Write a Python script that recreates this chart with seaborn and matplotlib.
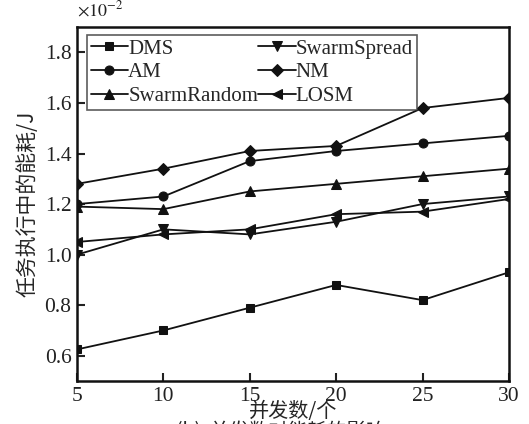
import matplotlib
matplotlib.use("Agg")
import matplotlib.pyplot as plt
import seaborn as sns
import pandas as pd

x_vals = [5, 10, 15, 20, 25, 30]
dms = [0.625, 0.70, 0.79, 0.88, 0.82, 0.93]
swarm_spread = [1.00, 1.10, 1.08, 1.13, 1.20, 1.23]
am = [1.20, 1.23, 1.37, 1.41, 1.44, 1.47]
nm = [1.28, 1.34, 1.41, 1.43, 1.58, 1.62]
swarm_random = [1.19, 1.18, 1.25, 1.28, 1.31, 1.34]
losm = [1.05, 1.08, 1.10, 1.16, 1.17, 1.22]

series_names = ["DMS", "AM", "SwarmRandom", "SwarmSpread", "NM", "LOSM"]
series_vals = [dms, am, swarm_random, swarm_spread, nm, losm]
markers = {"DMS": "s", "SwarmSpread": "v", "AM": "o", "NM": "D",
           "SwarmRandom": "^", "LOSM": "<"}
msizes = {"DMS": 6, "SwarmSpread": 7, "AM": 6.5, "NM": 6, "SwarmRandom": 7, "LOSM": 7}

sns.set_theme(style="ticks")
plt.rcParams['font.family'] = ['Liberation Serif', 'Noto Sans CJK SC']
plt.rcParams['mathtext.fontset'] = 'stix'

fig = plt.figure(figsize=(5.29, 4.24), dpi=100)
ax = fig.add_axes([0.1456, 0.1014, 0.8164, 0.8346])

rows = []
for name, vals in zip(series_names, series_vals):
    for xv, yv in zip(x_vals, vals):
        rows.append({"x": xv, "y": yv, "s": name})
df = pd.DataFrame(rows)

for name in series_names:
    sub = df[df["s"] == name]
    sns.lineplot(data=sub, x="x", y="y", ax=ax, color="#111111", lw=1.3,
                 marker=markers[name], markersize=msizes[name],
                 markeredgecolor="#111111", markerfacecolor="#111111",
                 label=name)

ax.set_xlim(5, 30)
ax.set_ylim(0.5, 1.9)
ax.set_xticks(x_vals)
ax.set_yticks([0.6, 0.8, 1.0, 1.2, 1.4, 1.6, 1.8])
ax.set_yticklabels(["0.6", "0.8", "1.0", "1.2", "1.4", "1.6", "1.8"])
ax.tick_params(direction="in", length=6, width=1.5, labelsize=15.5, colors="#222222",
               pad=4)
for sp in ax.spines.values():
    sp.set_linewidth(1.8)
    sp.set_color("#111111")

ax.set_xlabel("并发数/个", fontsize=14.5, labelpad=-3,
              family=['Noto Sans CJK SC', 'Liberation Serif'])
ax.set_ylabel("任务执行中的能耗/J", fontsize=15, labelpad=4,
              family=['Noto Sans CJK SC', 'Liberation Serif'])

ax.text(0.0, 1.02, r"$\times 10^{-2}$", transform=ax.transAxes, fontsize=13,
        ha="left", va="bottom", color="#222222")

leg = ax.legend(ncol=2, loc="upper left", bbox_to_anchor=(0.022, 0.978),
                fontsize=15, frameon=True, fancybox=False, edgecolor="#333333",
                handlelength=1.8, handletextpad=0.0, columnspacing=0.0,
                labelspacing=0.2, borderpad=0.2, borderaxespad=0.0)
leg.get_frame().set_linewidth(1.2)

fig.text(0.53, 0.006, "(b)  并发数对能耗的影响", ha="center", va="top",
         fontsize=14, family=['Noto Sans CJK SC', 'Liberation Serif'])

fig.savefig("out.png", dpi=100)
